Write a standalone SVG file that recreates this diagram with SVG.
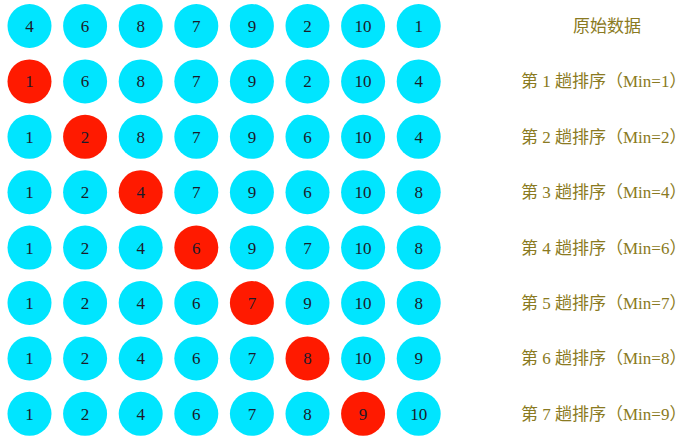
<svg xmlns="http://www.w3.org/2000/svg" width="693" height="436" viewBox="0 0 693 436">
<style>
.c{fill:#00E5FF}
.r{fill:#FF1A00}
.n{font-family:"Liberation Serif","Times New Roman",serif;font-size:17px;fill:#1b1b2a;text-anchor:middle}
.l{font-family:"Liberation Serif","Noto Sans CJK SC",serif;font-size:17px;fill:#8a7a22}
</style>
<rect width="693" height="436" fill="#ffffff"/>
<defs>
<circle id="cc" r="22" class="c"/>
<circle id="rc" r="22" class="r"/>
</defs>
<g id="row0" transform="translate(0,26)">
<g id="n0_0"><use href="#cc" x="29.5"/><text class="n" x="29.5" y="6">4</text></g>
<g id="n0_1"><use href="#cc" x="85.1"/><text class="n" x="85.1" y="6">6</text></g>
<g id="n0_2"><use href="#cc" x="140.7"/><text class="n" x="140.7" y="6">8</text></g>
<g id="n0_3"><use href="#cc" x="196.3"/><text class="n" x="196.3" y="6">7</text></g>
<g id="n0_4"><use href="#cc" x="251.9"/><text class="n" x="251.9" y="6">9</text></g>
<g id="n0_5"><use href="#cc" x="307.5"/><text class="n" x="307.5" y="6">2</text></g>
<g id="n0_6"><use href="#cc" x="363.1"/><text class="n" x="363.1" y="6">10</text></g>
<g id="n0_7"><use href="#cc" x="418.7"/><text class="n" x="418.7" y="6">1</text></g>
<text class="l" x="607" y="6" text-anchor="middle">原始数据</text>
</g>
<g id="row1" transform="translate(0,81.4)">
<g id="n1_0"><use href="#rc" x="29.5"/><text class="n" x="29.5" y="6">1</text></g>
<g id="n1_1"><use href="#cc" x="85.1"/><text class="n" x="85.1" y="6">6</text></g>
<g id="n1_2"><use href="#cc" x="140.7"/><text class="n" x="140.7" y="6">8</text></g>
<g id="n1_3"><use href="#cc" x="196.3"/><text class="n" x="196.3" y="6">7</text></g>
<g id="n1_4"><use href="#cc" x="251.9"/><text class="n" x="251.9" y="6">9</text></g>
<g id="n1_5"><use href="#cc" x="307.5"/><text class="n" x="307.5" y="6">2</text></g>
<g id="n1_6"><use href="#cc" x="363.1"/><text class="n" x="363.1" y="6">10</text></g>
<g id="n1_7"><use href="#cc" x="418.7"/><text class="n" x="418.7" y="6">4</text></g>
<text class="l" x="521" y="6">第 1 趟排序（Min=1）</text>
</g>
<g id="row2" transform="translate(0,136.8)">
<g id="n2_0"><use href="#cc" x="29.5"/><text class="n" x="29.5" y="6">1</text></g>
<g id="n2_1"><use href="#rc" x="85.1"/><text class="n" x="85.1" y="6">2</text></g>
<g id="n2_2"><use href="#cc" x="140.7"/><text class="n" x="140.7" y="6">8</text></g>
<g id="n2_3"><use href="#cc" x="196.3"/><text class="n" x="196.3" y="6">7</text></g>
<g id="n2_4"><use href="#cc" x="251.9"/><text class="n" x="251.9" y="6">9</text></g>
<g id="n2_5"><use href="#cc" x="307.5"/><text class="n" x="307.5" y="6">6</text></g>
<g id="n2_6"><use href="#cc" x="363.1"/><text class="n" x="363.1" y="6">10</text></g>
<g id="n2_7"><use href="#cc" x="418.7"/><text class="n" x="418.7" y="6">4</text></g>
<text class="l" x="521" y="6">第 2 趟排序（Min=2）</text>
</g>
<g id="row3" transform="translate(0,192.2)">
<g id="n3_0"><use href="#cc" x="29.5"/><text class="n" x="29.5" y="6">1</text></g>
<g id="n3_1"><use href="#cc" x="85.1"/><text class="n" x="85.1" y="6">2</text></g>
<g id="n3_2"><use href="#rc" x="140.7"/><text class="n" x="140.7" y="6">4</text></g>
<g id="n3_3"><use href="#cc" x="196.3"/><text class="n" x="196.3" y="6">7</text></g>
<g id="n3_4"><use href="#cc" x="251.9"/><text class="n" x="251.9" y="6">9</text></g>
<g id="n3_5"><use href="#cc" x="307.5"/><text class="n" x="307.5" y="6">6</text></g>
<g id="n3_6"><use href="#cc" x="363.1"/><text class="n" x="363.1" y="6">10</text></g>
<g id="n3_7"><use href="#cc" x="418.7"/><text class="n" x="418.7" y="6">8</text></g>
<text class="l" x="521" y="6">第 3 趟排序（Min=4）</text>
</g>
<g id="row4" transform="translate(0,247.6)">
<g id="n4_0"><use href="#cc" x="29.5"/><text class="n" x="29.5" y="6">1</text></g>
<g id="n4_1"><use href="#cc" x="85.1"/><text class="n" x="85.1" y="6">2</text></g>
<g id="n4_2"><use href="#cc" x="140.7"/><text class="n" x="140.7" y="6">4</text></g>
<g id="n4_3"><use href="#rc" x="196.3"/><text class="n" x="196.3" y="6">6</text></g>
<g id="n4_4"><use href="#cc" x="251.9"/><text class="n" x="251.9" y="6">9</text></g>
<g id="n4_5"><use href="#cc" x="307.5"/><text class="n" x="307.5" y="6">7</text></g>
<g id="n4_6"><use href="#cc" x="363.1"/><text class="n" x="363.1" y="6">10</text></g>
<g id="n4_7"><use href="#cc" x="418.7"/><text class="n" x="418.7" y="6">8</text></g>
<text class="l" x="521" y="6">第 4 趟排序（Min=6）</text>
</g>
<g id="row5" transform="translate(0,303)">
<g id="n5_0"><use href="#cc" x="29.5"/><text class="n" x="29.5" y="6">1</text></g>
<g id="n5_1"><use href="#cc" x="85.1"/><text class="n" x="85.1" y="6">2</text></g>
<g id="n5_2"><use href="#cc" x="140.7"/><text class="n" x="140.7" y="6">4</text></g>
<g id="n5_3"><use href="#cc" x="196.3"/><text class="n" x="196.3" y="6">6</text></g>
<g id="n5_4"><use href="#rc" x="251.9"/><text class="n" x="251.9" y="6">7</text></g>
<g id="n5_5"><use href="#cc" x="307.5"/><text class="n" x="307.5" y="6">9</text></g>
<g id="n5_6"><use href="#cc" x="363.1"/><text class="n" x="363.1" y="6">10</text></g>
<g id="n5_7"><use href="#cc" x="418.7"/><text class="n" x="418.7" y="6">8</text></g>
<text class="l" x="521" y="6">第 5 趟排序（Min=7）</text>
</g>
<g id="row6" transform="translate(0,358.4)">
<g id="n6_0"><use href="#cc" x="29.5"/><text class="n" x="29.5" y="6">1</text></g>
<g id="n6_1"><use href="#cc" x="85.1"/><text class="n" x="85.1" y="6">2</text></g>
<g id="n6_2"><use href="#cc" x="140.7"/><text class="n" x="140.7" y="6">4</text></g>
<g id="n6_3"><use href="#cc" x="196.3"/><text class="n" x="196.3" y="6">6</text></g>
<g id="n6_4"><use href="#cc" x="251.9"/><text class="n" x="251.9" y="6">7</text></g>
<g id="n6_5"><use href="#rc" x="307.5"/><text class="n" x="307.5" y="6">8</text></g>
<g id="n6_6"><use href="#cc" x="363.1"/><text class="n" x="363.1" y="6">10</text></g>
<g id="n6_7"><use href="#cc" x="418.7"/><text class="n" x="418.7" y="6">9</text></g>
<text class="l" x="521" y="6">第 6 趟排序（Min=8）</text>
</g>
<g id="row7" transform="translate(0,413.8)">
<g id="n7_0"><use href="#cc" x="29.5"/><text class="n" x="29.5" y="6">1</text></g>
<g id="n7_1"><use href="#cc" x="85.1"/><text class="n" x="85.1" y="6">2</text></g>
<g id="n7_2"><use href="#cc" x="140.7"/><text class="n" x="140.7" y="6">4</text></g>
<g id="n7_3"><use href="#cc" x="196.3"/><text class="n" x="196.3" y="6">6</text></g>
<g id="n7_4"><use href="#cc" x="251.9"/><text class="n" x="251.9" y="6">7</text></g>
<g id="n7_5"><use href="#cc" x="307.5"/><text class="n" x="307.5" y="6">8</text></g>
<g id="n7_6"><use href="#rc" x="363.1"/><text class="n" x="363.1" y="6">9</text></g>
<g id="n7_7"><use href="#cc" x="418.7"/><text class="n" x="418.7" y="6">10</text></g>
<text class="l" x="521" y="6">第 7 趟排序（Min=9）</text>
</g>
<g id="connectors"/>
</svg>
